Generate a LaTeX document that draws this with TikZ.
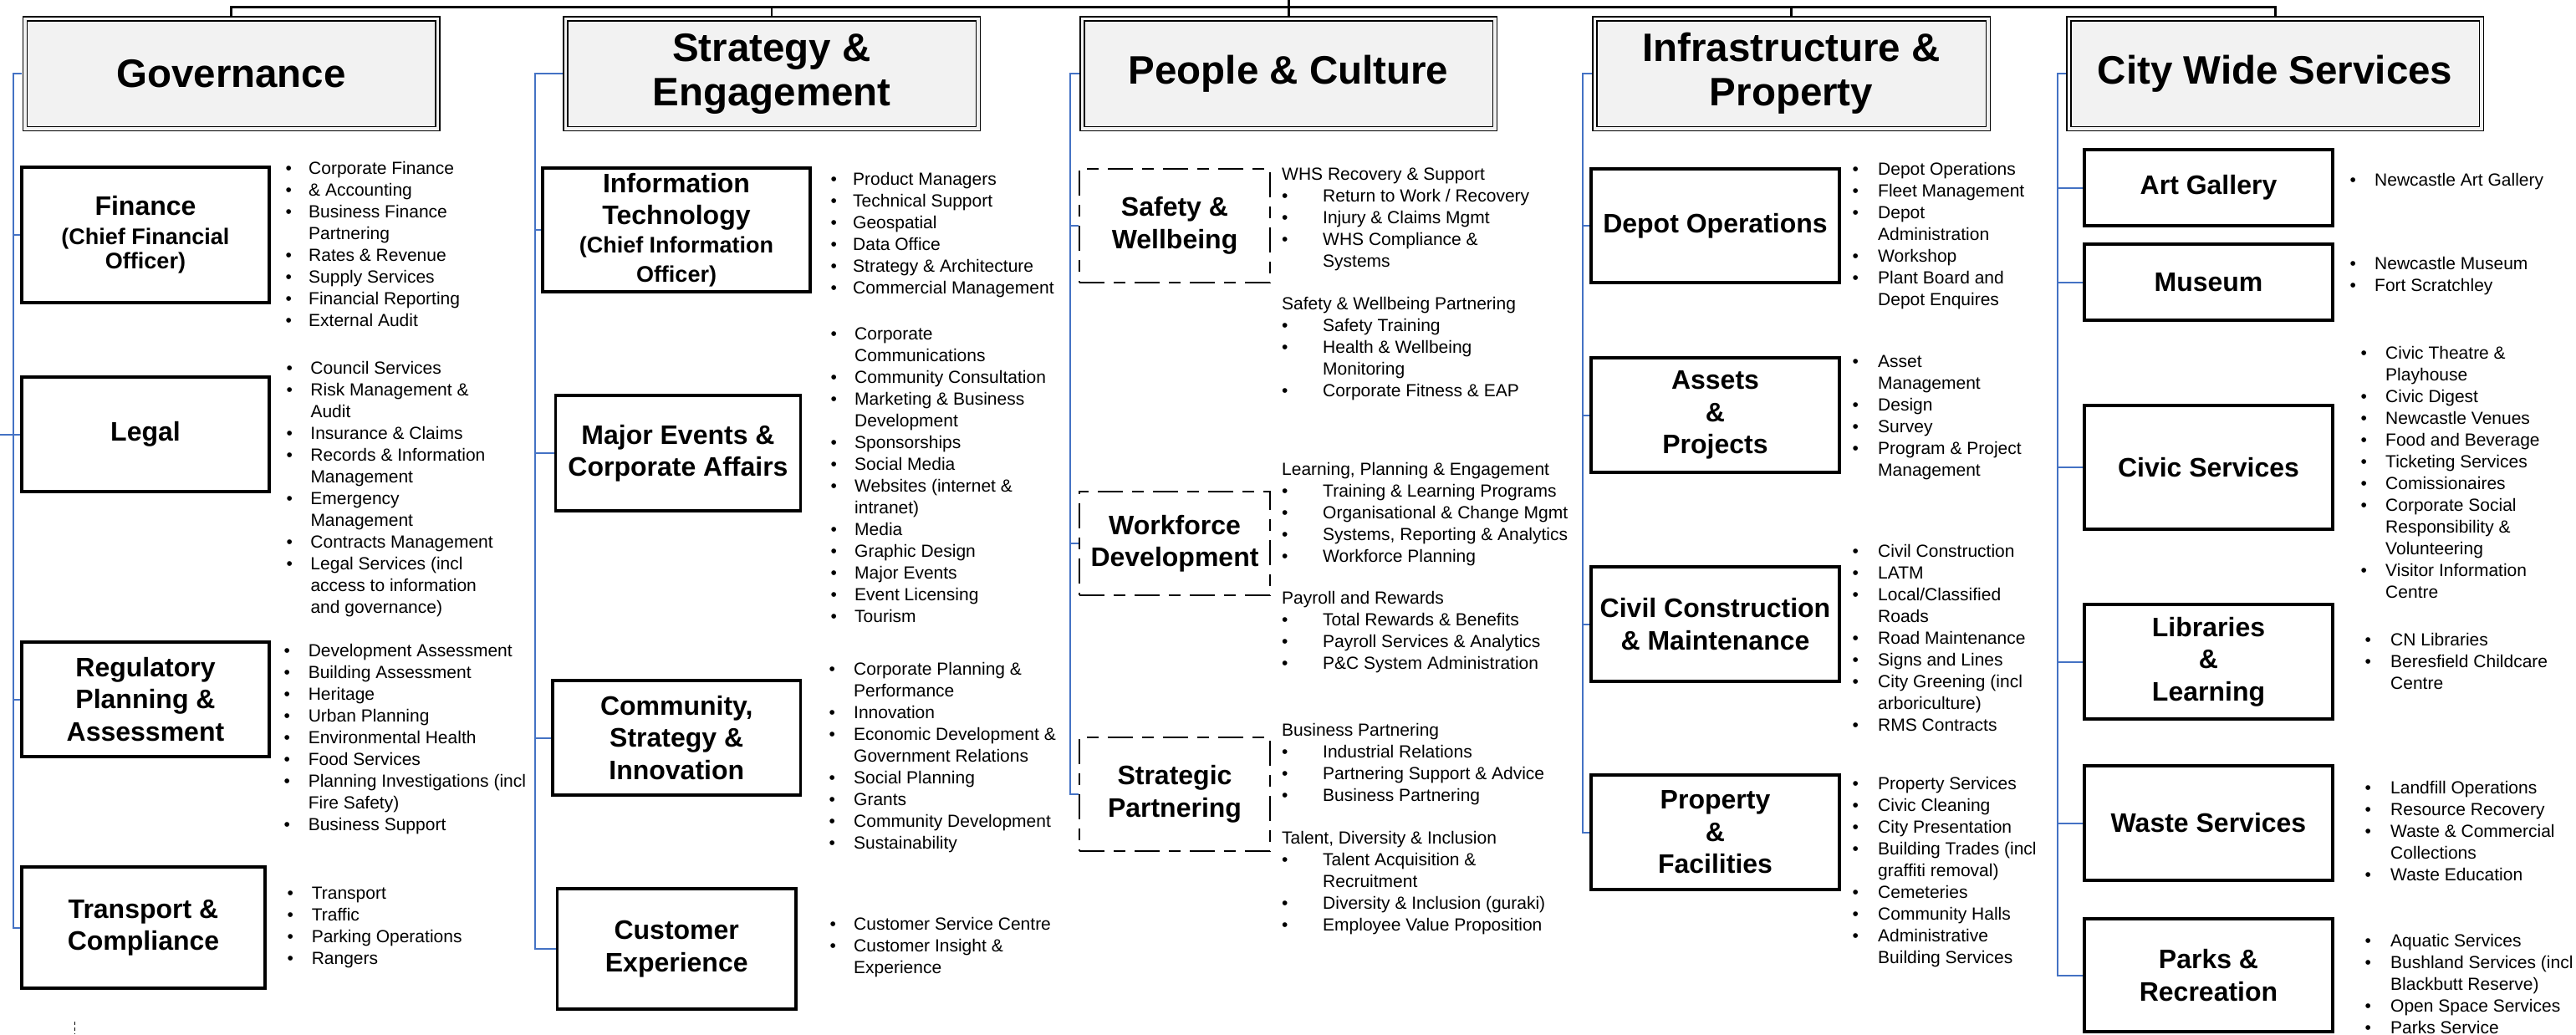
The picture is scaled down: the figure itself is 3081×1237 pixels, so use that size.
\documentclass[tikz,border=0pt]{standalone}
\usepackage{fontspec}
\setmainfont{Liberation Sans}
\definecolor{headfill}{HTML}{F2F2F2}
\definecolor{linkblue}{HTML}{4472C4}
\newcommand{\listfont}{\fontsize{21}{26}\selectfont}
\newcommand{\boxfont}{\bfseries\fontsize{32}{38.5}\selectfont}
\newcommand{\subfont}{\fontsize{27}{33}\selectfont}
\newcommand{\headfont}{\bfseries\fontsize{47.5}{53}\selectfont}
\newcommand{\bt}{\textbullet &}
\tikzset{
  headbox/.style={draw, line width=1.5pt, double=headfill, double distance=3.5pt, fill=headfill,
    minimum width=493.5pt, minimum height=131.5pt, align=center, font=\headfont, inner sep=0pt},
  unitbox/.style={draw, line width=3.5pt, align=center, font=\boxfont, inner sep=0pt},
  teambox/.style={draw, line width=2.2pt, dash pattern=on 30pt off 11pt on 14pt off 11pt,
    align=center, font=\boxfont, inner sep=0pt},
  link/.style={draw=linkblue, line width=2pt},
  trunk/.style={draw, line width=3pt},
  items/.style={anchor=base west, inner sep=0pt, font=\listfont},
}
\begin{document}
\begin{tikzpicture}[x=1pt,y=-1pt]
            \path[use as bounding box, fill=white] (0,0) rectangle (3081,1237);
            \node [headbox] (gov) at (276.5,88) {Governance};
            \node [headbox] (strat) at (923,88) {Strategy \&\\Engagement};
            \node [headbox] (people) at (1541,88) {People \& Culture};
            \node [headbox, minimum width=470.5pt] (infra) at (2142.5,88) {Infrastructure \&\\Property};
            \node [headbox] (city) at (2721,88) {City Wide Services};
            \coordinate (ceo) at (1541,0);
            \coordinate (bar) at (1541,8);
            \draw [trunk] ([yshift=3pt]gov.north) |- (bar) -| ([yshift=3pt]city.north);
            \draw [trunk] (ceo) -- ([yshift=3pt]people.north);
            \foreach \h in {strat,infra} \draw [trunk, line width=2.5pt] ([yshift=3pt]\h.north) -- (\h.north |- bar);
            \node [unitbox, minimum width=296pt, minimum height=162pt] (fin) at (174,281) {Finance\\[-4pt]{\subfont (Chief Financial}\\[-9pt]{\subfont Officer)}};
            \node [unitbox, minimum width=296pt, minimum height=137pt] (legal) at (174,519.5) {Legal};
            \node [unitbox, minimum width=296pt, minimum height=137pt] (reg) at (174,836.5) {Regulatory\\Planning \&\\Assessment};
            \node [unitbox, minimum width=291pt, minimum height=145pt] (trans) at (171.5,1109.5) {Transport \&\\Compliance};
            \node [unitbox, minimum width=320pt, minimum height=148pt] (it) at (809,275) {Information\\Technology\\[-5pt]{\subfont (Chief Information}\\[-3.5pt]{\subfont Officer)}};
            \node [unitbox, minimum width=293pt, minimum height=138pt] (major) at (811,542) {Major Events \&\\Corporate Affairs};
            \node [unitbox, minimum width=296.5pt, minimum height=137pt] (comm) at (809.25,882.5) {Community,\\Strategy \&\\Innovation};
            \node [unitbox, minimum width=285.5pt, minimum height=144pt] (cust) at (809.25,1135) {Customer\\Experience};
            \node [teambox, minimum width=228pt, minimum height=136pt] (safety) at (1405,270) {Safety \&\\Wellbeing};
            \node [teambox, minimum width=228pt, minimum height=124pt] (workforce) at (1405,650) {Workforce\\Development};
            \node [teambox, minimum width=228pt, minimum height=136pt] (partner) at (1405,950) {Strategic\\Partnering};
            \node [unitbox, minimum width=297pt, minimum height=136pt] (depot) at (2051.5,270) {Depot Operations};
            \node [unitbox, minimum width=297pt, minimum height=137pt] (assets) at (2051.5,496.5) {Assets\\\&\\Projects};
            \node [unitbox, minimum width=297pt, minimum height=137pt] (civil) at (2051.5,746.5) {Civil Construction\\\& Maintenance};
            \node [unitbox, minimum width=297pt, minimum height=137pt] (prop) at (2051.5,995.5) {Property\\\&\\Facilities};
            \node [unitbox, minimum width=297pt, minimum height=91pt] (art) at (2641.5,224.5) {Art Gallery};
            \node [unitbox, minimum width=297pt, minimum height=91pt] (museum) at (2641.5,337.5) {Museum};
            \node [unitbox, minimum width=297pt, minimum height=148pt] (civic) at (2641.5,559) {Civic Services};
            \node [unitbox, minimum width=297pt, minimum height=137pt] (libs) at (2641.5,791.5) {Libraries\\\&\\Learning};
            \node [unitbox, minimum width=297pt, minimum height=137pt] (waste) at (2641.5,984.5) {Waste Services};
            \node [unitbox, minimum width=297pt, minimum height=135pt] (parks) at (2641.5,1166.5) {Parks \&\\Recreation};
            \coordinate (rail1) at (15.5,88);
            \coordinate (rail2) at (640,88);
            \coordinate (rail3) at (1280,88);
            \coordinate (rail4) at (1893,88);
            \coordinate (rail5) at (2461,88);
            \coordinate (outside) at (0,519.5);
            \draw [link] ([xshift=-3pt]gov.west) -| (rail1 |- trans.west) -- (trans.west);
            \foreach \u in {fin,legal,reg} \draw [link] (rail1 |- \u.west) -- (\u.west);
            \draw [link] (outside) -- (rail1 |- legal.west);
            \draw [link] ([xshift=-3pt]strat.west) -| (rail2 |- cust.west) -- (cust.west);
            \foreach \u in {it,major,comm} \draw [link] (rail2 |- \u.west) -- (\u.west);
            \draw [link] ([xshift=-3pt]people.west) -| (rail3 |- partner.west) -- (partner.west);
            \foreach \u in {safety,workforce} \draw [link] (rail3 |- \u.west) -- (\u.west);
            \draw [link] ([xshift=-3pt]infra.west) -| (rail4 |- prop.west) -- (prop.west);
            \foreach \u in {depot,assets,civil} \draw [link] (rail4 |- \u.west) -- (\u.west);
            \draw [link] ([xshift=-3pt]city.west) -| (rail5 |- parks.west) -- (parks.west);
            \foreach \u in {art,museum,civic,libs,waste} \draw [link] (rail5 |- \u.west) -- (\u.west);
            \draw [dash pattern=on 4pt off 3pt, line width=1pt] (89,1222) -- (89,1237);
            \node [items] (finlist) at (341.3,208) {\begin{tabular}[t]{@{}p{27.7pt}@{}l@{}}
                \bt Corporate Finance\\ \bt \& Accounting\\ \bt Business Finance\\ & Partnering\\
                \bt Rates \& Revenue\\ \bt Supply Services\\ \bt Financial Reporting\\ \bt External Audit
                \end{tabular}};
            \node [items] (legallist) at (342.3,447) {\begin{tabular}[t]{@{}p{29pt}@{}l@{}}
                \bt Council Services\\ \bt Risk Management \&\\ & Audit\\ \bt Insurance \& Claims\\
                \bt Records \& Information\\ & Management\\ \bt Emergency\\ & Management\\
                \bt Contracts Management\\ \bt Legal Services (incl\\ & access to information\\ & and governance)
                \end{tabular}};
            \node [items] (reglist) at (339.3,785) {\begin{tabular}[t]{@{}p{29.3pt}@{}l@{}}
                \bt Development Assessment\\ \bt Building Assessment\\ \bt Heritage\\ \bt Urban Planning\\
                \bt Environmental Health\\ \bt Food Services\\ \bt Planning Investigations (incl\\ & Fire Safety)\\
                \bt Business Support
                \end{tabular}};
            \node [items] (translist) at (343.3,1075) {\begin{tabular}[t]{@{}p{29.3pt}@{}l@{}}
                \bt Transport\\ \bt Traffic\\ \bt Parking Operations\\ \bt Rangers
                \end{tabular}};
            \node [items] (itlist) at (993.3,221) {\begin{tabular}[t]{@{}p{26.7pt}@{}l@{}}
                \bt Product Managers\\ \bt Technical Support\\ \bt Geospatial\\ \bt Data Office\\
                \bt Strategy \& Architecture\\ \bt Commercial Management
                \end{tabular}};
            \node [items] (majorlist) at (993.3,406) {\begin{tabular}[t]{@{}p{28.7pt}@{}l@{}}
                \bt Corporate\\ & Communications\\ \bt Community Consultation\\ \bt Marketing \& Business\\
                & Development\\ \bt Sponsorships\\ \bt Social Media\\ \bt Websites (internet \&\\ & intranet)\\
                \bt Media\\ \bt Graphic Design\\ \bt Major Events\\ \bt Event Licensing\\ \bt Tourism
                \end{tabular}};
            \node [items] (commlist) at (991.3,807) {\begin{tabular}[t]{@{}p{29.7pt}@{}l@{}}
                \bt Corporate Planning \&\\ & Performance\\ \bt Innovation\\ \bt Economic Development \&\\
                & Government Relations\\ \bt Social Planning\\ \bt Grants\\ \bt Community Development\\
                \bt Sustainability
                \end{tabular}};
            \node [items] (custlist) at (992.3,1112) {\begin{tabular}[t]{@{}p{28.7pt}@{}l@{}}
                \bt Customer Service Centre\\ \bt Customer Insight \&\\ & Experience
                \end{tabular}};
            \node [items] (whslist) at (1533,215) {\begin{tabular}[t]{@{}p{49pt}@{}l@{}}
                \multicolumn{2}{@{}l@{}}{WHS Recovery \& Support}\\ \bt Return to Work / Recovery\\
                \bt Injury \& Claims Mgmt\\ \bt WHS Compliance \&\\ & Systems
                \end{tabular}};
            \node [items] (swlist) at (1533,370) {\begin{tabular}[t]{@{}p{49pt}@{}l@{}}
                \multicolumn{2}{@{}l@{}}{Safety \& Wellbeing Partnering}\\ \bt Safety Training\\
                \bt Health \& Wellbeing\\ & Monitoring\\ \bt Corporate Fitness \& EAP
                \end{tabular}};
            \node [items] (lpelist) at (1533,568) {\begin{tabular}[t]{@{}p{49pt}@{}l@{}}
                \multicolumn{2}{@{}l@{}}{Learning, Planning \& Engagement}\\ \bt Training \& Learning Programs\\
                \bt Organisational \& Change Mgmt\\ \bt Systems, Reporting \& Analytics\\ \bt Workforce Planning
                \end{tabular}};
            \node [items] (paylist) at (1533,722) {\begin{tabular}[t]{@{}p{49pt}@{}l@{}}
                \multicolumn{2}{@{}l@{}}{Payroll and Rewards}\\ \bt Total Rewards \& Benefits\\
                \bt Payroll Services \& Analytics\\ \bt P\&C System Administration
                \end{tabular}};
            \node [items] (bplist) at (1533,880) {\begin{tabular}[t]{@{}p{49pt}@{}l@{}}
                \multicolumn{2}{@{}l@{}}{Business Partnering}\\ \bt Industrial Relations\\
                \bt Partnering Support \& Advice\\ \bt Business Partnering
                \end{tabular}};
            \node [items] (tdilist) at (1533,1009) {\begin{tabular}[t]{@{}p{49pt}@{}l@{}}
                \multicolumn{2}{@{}l@{}}{Talent, Diversity \& Inclusion}\\ \bt Talent Acquisition \&\\
                & Recruitment\\ \bt Diversity \& Inclusion (guraki)\\ \bt Employee Value Proposition
                \end{tabular}};
            \node [items] (depotlist) at (2215.3,209) {\begin{tabular}[t]{@{}p{30.7pt}@{}l@{}}
                \bt Depot Operations\\ \bt Fleet Management\\ \bt Depot\\ & Administration\\ \bt Workshop\\
                \bt Plant Board and\\ & Depot Enquires
                \end{tabular}};
            \node [items] (assetlist) at (2215.3,439) {\begin{tabular}[t]{@{}p{30.7pt}@{}l@{}}
                \bt Asset\\ & Management\\ \bt Design\\ \bt Survey\\ \bt Program \& Project\\ & Management
                \end{tabular}};
            \node [items] (civillist) at (2215.3,666) {\begin{tabular}[t]{@{}p{30.7pt}@{}l@{}}
                \bt Civil Construction\\ \bt LATM\\ \bt Local/Classified\\ & Roads\\ \bt Road Maintenance\\
                \bt Signs and Lines\\ \bt City Greening (incl\\ & arboriculture)\\ \bt RMS Contracts
                \end{tabular}};
            \node [items] (proplist) at (2215.3,944) {\begin{tabular}[t]{@{}p{30.7pt}@{}l@{}}
                \bt Property Services\\ \bt Civic Cleaning\\ \bt City Presentation\\ \bt Building Trades (incl\\
                & graffiti removal)\\ \bt Cemeteries\\ \bt Community Halls\\ \bt Administrative\\ & Building Services
                \end{tabular}};
            \node [items] (artlist) at (2810.3,222) {\begin{tabular}[t]{@{}p{29.7pt}@{}l@{}}
                \bt Newcastle Art Gallery
                \end{tabular}};
            \node [items] (museumlist) at (2810.3,322.5) {\begin{tabular}[t]{@{}p{29.7pt}@{}l@{}}
                \bt Newcastle Museum\\ \bt Fort Scratchley
                \end{tabular}};
            \node [items] (civiclist) at (2823.3,429) {\begin{tabular}[t]{@{}p{29.7pt}@{}l@{}}
                \bt Civic Theatre \&\\ & Playhouse\\ \bt Civic Digest\\ \bt Newcastle Venues\\ \bt Food and Beverage\\
                \bt Ticketing Services\\ \bt Comissionaires\\ \bt Corporate Social\\ & Responsibility \&\\
                & Volunteering\\ \bt Visitor Information\\ & Centre
                \end{tabular}};
            \node [items] (libslist) at (2828.3,772) {\begin{tabular}[t]{@{}p{30.7pt}@{}l@{}}
                \bt CN Libraries\\ \bt Beresfield Childcare\\ & Centre
                \end{tabular}};
            \node [items] (wastelist) at (2828.3,949) {\begin{tabular}[t]{@{}p{30.7pt}@{}l@{}}
                \bt Landfill Operations\\ \bt Resource Recovery\\ \bt Waste \& Commercial\\ & Collections\\
                \bt Waste Education
                \end{tabular}};
            \node [items] (parkslist) at (2828.3,1132) {\begin{tabular}[t]{@{}p{30.7pt}@{}l@{}}
                \bt Aquatic Services\\ \bt Bushland Services (incl\\ & Blackbutt Reserve)\\
                \bt Open Space Services\\ \bt Parks Service
                \end{tabular}};
        \end{tikzpicture}
\end{document}
